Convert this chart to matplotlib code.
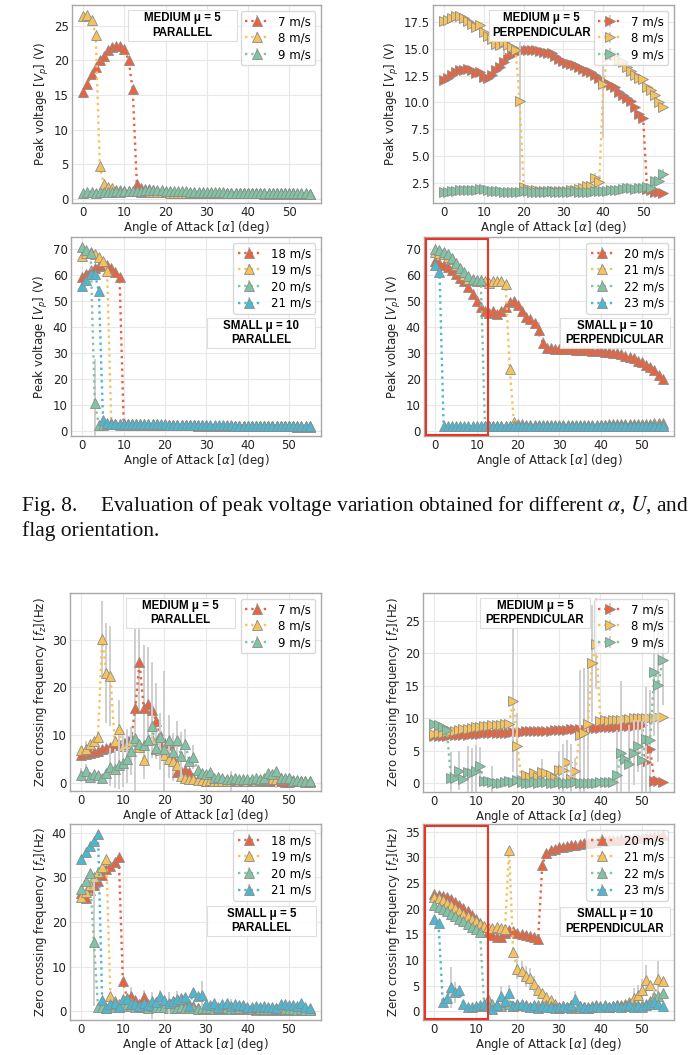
import matplotlib
matplotlib.use('Agg')
import matplotlib.pyplot as plt
import numpy as np
from matplotlib.patches import Rectangle

W, H = 690, 1055
plt.rcParams['font.family'] = ['DejaVu Sans']
plt.rcParams['font.size'] = 8.5

angles = list(range(56))

# ---------------- Panel 1: peak voltage, MEDIUM mu=5 PARALLEL ----------------
p1_labels = ['7 m/s', '8 m/s', '9 m/s']
p1_v7 = [15.4,16.6,18.0,19.0,20.0,20.7,21.5,22.0,22.1,22.1,21.7,20.0,15.8,2.2,1.6,1.4,1.4,1.3,1.2,1.1,
         1.0,1.0,0.9,0.9,0.9,0.9,0.9,0.9,0.9,0.9,0.9,0.9,0.9,0.9,0.8,0.8,0.8,0.8,0.8,0.8,
         0.8,0.8,0.8,0.8,0.8,0.8,0.8,0.8,0.8,0.8,0.8,0.8,0.7,0.7,0.7,0.7]
p1_v8 = [26.4,26.5,25.9,23.7,4.8,2.1,1.7,1.5,1.3,1.3,1.2,1.1,1.1,1.1,1.0,1.0,1.0,1.0,1.0,1.0,
         1.0,0.9,0.9,0.9,0.8,0.8,0.8,0.8,0.8,0.8,0.8,0.8,0.8,0.8,0.8,0.8,0.8,0.8,0.8,0.8,
         0.8,0.8,0.8,0.8,0.7,0.7,0.7,0.7,0.7,0.7,0.7,0.7,0.7,0.7,0.7,0.7]
p1_v9 = [0.9,1.0,1.0,0.9,1.0,1.0,1.0,1.0,1.1,1.0,1.1,1.1,1.2,1.2,1.2,1.3,1.3,1.3,1.3,1.3,
         1.2,1.2,1.1,1.1,1.1,1.1,1.0,1.0,1.0,1.0,1.0,1.0,1.0,1.0,1.0,0.9,0.9,0.9,0.9,0.9,
         0.9,0.9,0.9,0.9,0.9,0.9,0.9,0.9,0.8,0.8,0.8,0.8,0.8,0.8,0.8,0.7]
p1_err = [{}, {4: 0.4}, {}]

# ---------------- Panel 2: peak voltage, MEDIUM mu=5 PERPENDICULAR ----------------
p2_labels = ['7 m/s', '8 m/s', '9 m/s']
p2_v7 = [12.1,12.3,12.6,12.8,13.0,13.0,13.1,13.0,12.7,12.8,12.4,12.3,12.6,13.0,13.3,13.8,14.2,14.4,14.6,14.8,
         14.9,14.9,14.9,14.9,14.8,14.7,14.6,14.6,14.3,14.1,13.9,13.7,13.6,13.5,13.3,13.1,12.9,12.8,12.6,12.3,
         12.0,11.8,11.6,11.4,11.0,10.7,10.4,10.1,9.6,8.9,8.5,1.9,1.8,1.6,1.6,1.5]
p2_v8 = [17.6,17.7,17.9,18.1,18.1,17.9,17.6,17.3,17.0,17.2,16.6,16.2,15.9,15.5,15.4,15.6,15.4,15.2,14.9,10.1,
         2.1,1.9,1.8,1.8,1.7,1.7,1.7,1.7,1.7,1.7,1.7,1.7,1.8,1.8,1.9,2.0,2.2,2.2,2.9,2.6,
         11.7,14.2,14.5,14.4,14.0,13.8,13.3,12.9,12.6,12.3,12.2,11.4,11.2,10.7,10.0,9.6]
p2_v9 = [1.6,1.6,1.7,1.7,1.8,1.8,1.8,1.8,1.8,1.9,1.9,1.8,1.7,1.7,1.7,1.6,1.6,1.6,1.6,1.6,
         1.7,1.7,1.6,1.6,1.6,1.6,1.6,1.7,1.6,1.6,1.6,1.6,1.6,1.7,1.6,1.6,1.6,1.6,1.7,1.7,
         1.7,1.7,1.8,1.8,1.8,1.9,2.0,2.0,1.9,2.0,2.0,2.1,2.0,2.7,2.7,3.3]
p2_err = [{8: 0.3, 10: 0.3, 14: 0.4, 27: 0.3, 33: 0.3, 44: 0.3},
          {15: 1.2, 19: 7.4, 40: 5.0, 43: 0.5, 38: 0.5},
          {53: 0.3, 54: 0.3, 55: 0.5}]

# ---------------- Panel 3: peak voltage, SMALL mu=10 PARALLEL ----------------
p3_labels = ['18 m/s', '19 m/s', '20 m/s', '21 m/s']
p3_v18 = [59.2,60.5,61.8,62.8,63.6,64.0,64.0,62.8,61.2,59.1,2.8,2.6,2.6,2.6,2.5,2.5,2.5,2.5,2.5,2.5,
          2.4,2.4,2.4,2.3,2.3,2.2,2.2,2.2,2.1,2.1,2.1,2.0,2.0,2.0,2.0,2.0,1.9,1.9,1.9,1.9,
          1.9,1.9,1.8,1.8,1.8,1.8,1.8,1.8,1.8,1.8,1.8,1.8,1.7,1.7,1.7,1.7]
p3_v19 = [67.4,68.5,68.8,68.0,67.0,65.5,61.5,3.0,2.6,2.5,2.5,2.5,2.5,2.5,2.5,2.4,2.4,2.4,2.4,2.4,
          2.4,2.3,2.3,2.3,2.2,2.2,2.2,2.2,2.1,2.1,2.1,2.0,2.0,2.0,2.0,2.0,1.9,1.9,1.9,1.9,
          1.9,1.9,1.8,1.8,1.8,1.8,1.8,1.8,1.8,1.8,1.8,1.8,1.7,1.7,1.7,1.7]
p3_v20 = [70.9,69.5,68.3,10.6,2.5,2.5,2.6,2.6,2.6,2.6,2.6,2.6,2.6,2.6,2.6,2.6,2.6,2.6,2.6,2.5,
          2.5,2.5,2.4,2.4,2.4,2.3,2.3,2.3,2.2,2.2,2.2,2.1,2.1,2.1,2.1,2.0,2.0,2.0,2.0,2.0,
          2.0,1.9,1.9,1.9,1.9,1.9,1.9,1.9,1.9,1.8,1.8,1.8,1.8,1.8,1.8,1.8]
p3_v21 = [55.9,58.1,60.5,60.3,53.8,4.2,3.0,2.8,2.7,2.7,2.7,2.7,2.7,2.7,2.6,2.6,2.6,2.6,2.6,2.6,
          2.6,2.5,2.5,2.5,2.5,2.4,2.4,2.4,2.4,2.3,2.3,2.3,2.3,2.2,2.2,2.2,2.2,2.1,2.1,2.1,
          2.1,2.1,2.0,2.0,2.0,2.0,2.0,2.0,1.9,1.9,1.9,1.9,1.9,1.9,1.9,1.8]
p3_err = [{}, {}, {3: 17.0}, {}]

# ---------------- Panel 4: peak voltage, SMALL mu=10 PERPENDICULAR ----------------
p4_labels = ['20 m/s', '21 m/s', '22 m/s', '23 m/s']
p4_v20 = [65.3,64.5,64.0,63.0,62.0,60.5,59.0,57.5,55.5,52.5,50.0,47.5,46.0,45.5,46.0,45.0,46.0,47.5,49.5,50.0,
          48.5,46.0,44.0,43.0,41.5,39.0,34.0,32.0,32.0,31.5,31.5,31.5,31.5,31.5,31.3,31.2,31.0,31.0,30.8,30.8,
          30.6,30.5,30.2,30.0,30.0,29.5,29.0,28.5,28.0,27.0,26.5,25.5,24.5,23.5,21.5,20.0]
p4_v21 = [69.0,68.5,68.0,67.0,66.0,64.0,62.0,60.0,58.5,58.0,57.5,57.5,57.5,57.0,57.5,57.5,57.5,56.5,24.0,3.5,
          2.8,2.6,2.5,2.5,2.4,2.4,2.4,2.4,2.4,2.4,2.4,2.4,2.4,2.4,2.4,2.4,2.4,2.5,2.5,2.5,
          2.5,2.5,2.6,2.6,2.6,2.7,2.7,2.7,2.8,2.8,2.8,2.9,2.9,3.0,3.2,3.0]
p4_v22 = [70.0,69.5,69.0,68.0,66.5,64.5,62.5,61.0,59.5,58.5,58.0,58.0,1.8,1.9,2.0,2.0,2.0,2.0,2.0,2.0,
          2.0,2.0,2.0,2.0,2.0,2.0,2.0,2.0,2.0,2.0,2.0,2.0,2.1,2.1,2.1,2.1,2.1,2.1,2.1,2.1,
          2.2,2.2,2.2,2.2,2.2,2.2,2.3,2.3,2.3,2.3,2.3,2.4,2.4,2.4,2.5,2.5]
p4_v23 = [63.8,61.3,1.8,1.9,1.9,1.9,1.9,1.9,1.9,1.9,1.9,1.9,1.9,1.9,1.9,1.9,1.9,1.9,1.9,1.9,
          1.9,1.9,1.9,1.9,1.9,1.9,1.9,1.9,1.9,1.9,1.9,1.9,1.9,1.9,2.0,2.0,2.0,2.0,2.0,2.0,
          2.0,2.0,2.0,2.0,2.0,2.0,2.0,2.1,2.1,2.1,2.1,2.1,2.1,2.1,2.1,2.1]
p4_err = [{20: 1.5, 25: 3.0, 26: 2.0, 54: 1.0, 55: 1.0}, {}, {}, {}]

# ---------------- Panel 5: zero crossing freq, MEDIUM mu=5 PARALLEL ----------------
p5_labels = ['7 m/s', '8 m/s', '9 m/s']
p5_f7 = [5.9,6.1,6.3,6.5,6.7,7.0,7.3,7.6,7.9,8.2,8.6,9.0,9.4,15.8,25.3,15.8,16.5,15.3,13.0,10.0,
         8.5,8.3,5.5,2.3,2.5,2.8,2.3,1.0,0.8,0.6,0.5,0.5,0.4,0.5,0.6,0.6,0.5,0.5,0.5,0.4,
         0.4,0.5,0.4,0.3,0.3,0.4,0.5,0.5,0.4,0.2,0.1,0.3,0.3,0.3,0.2,0.2]
p5_f8 = [6.8,7.2,8.2,8.8,9.6,30.2,23.0,22.4,8.8,11.3,7.7,8.2,8.8,9.0,7.5,4.8,9.0,9.2,7.2,6.8,
         5.8,5.0,4.5,3.7,1.5,1.0,0.9,0.8,0.7,0.6,0.5,0.6,0.3,0.4,0.5,0.5,0.4,0.6,0.5,0.6,
         0.5,0.6,0.5,0.7,0.6,0.8,0.9,0.9,1.0,0.9,1.1,0.6,0.5,0.5,0.4,0.3]
p5_f9 = [1.7,2.5,1.3,1.8,1.6,1.0,2.0,3.4,3.0,3.7,4.1,5.0,6.7,9.5,8.1,7.9,9.0,12.0,7.3,9.6,
         7.0,9.0,6.5,9.0,5.7,8.2,4.5,5.5,2.8,2.0,1.8,2.3,1.0,1.2,1.0,0.8,0.8,1.0,0.9,0.8,
         0.8,0.9,1.0,0.9,1.0,2.0,1.8,2.4,1.0,1.0,1.0,0.5,0.6,0.4,0.4,0.3]
p5_err = [{13: 18.0, 14: 10.0, 15: 13.0, 16: 12.0, 17: 10.0, 18: 8.0, 20: 15.0, 21: 6.0, 22: 5.0},
          {1: 1.5, 5: 8.0, 6: 10.5, 7: 10.5, 9: 6.0, 10: 3.0, 11: 3.0, 12: 3.0, 15: 4.0, 16: 5.0,
           19: 4.0, 20: 4.0, 21: 4.0, 36: 2.0, 45: 1.5, 47: 2.0},
          {0: 1.5, 1: 1.5, 7: 4.0, 8: 4.0, 9: 5.0, 10: 5.0, 11: 5.0, 12: 5.0, 17: 5.0, 19: 5.0,
           23: 4.0, 24: 5.0, 25: 3.0, 27: 2.5}]

# ---------------- Panel 6: zero crossing freq, MEDIUM mu=5 PERPENDICULAR ----------------
p6_labels = ['7 m/s', '8 m/s', '9 m/s']
p6_f7 = [7.2,7.2,7.3,7.3,7.4,7.4,7.5,7.5,7.5,7.6,7.6,7.6,7.7,7.7,7.7,7.7,7.8,7.8,7.8,7.9,
         7.9,7.9,8.0,8.0,8.0,8.0,8.1,8.1,8.1,8.2,8.2,8.2,8.2,8.3,8.3,8.3,8.4,8.4,8.5,8.5,
         8.5,8.6,8.6,8.7,8.7,8.7,8.8,8.8,8.8,8.9,9.0,3.2,5.3,0.4,0.3,0.2]
p6_f8 = [7.6,7.7,7.8,7.9,8.0,8.1,8.2,8.3,8.4,8.5,8.6,8.7,8.8,8.8,8.9,8.9,9.0,9.1,9.2,12.7,
         5.8,0.5,1.2,0.9,1.5,1.0,1.8,1.5,1.2,0.8,2.0,2.0,3.2,0.6,1.9,7.5,7.8,9.2,18.5,21.5,
         9.6,9.7,9.6,9.7,9.8,9.8,9.9,9.9,10.0,10.0,10.0,10.1,10.1,10.1,10.2,10.2]
p6_f9 = [9.2,8.9,8.6,8.2,0.8,0.8,1.9,0.7,1.8,1.5,1.9,2.6,0.3,0.4,0.2,0.1,0.1,0.2,0.3,0.2,
         0.5,0.2,0.1,0.1,0.2,0.1,0.2,0.2,0.1,0.1,0.2,0.1,0.1,0.1,0.2,0.1,0.1,0.0,0.1,0.1,
         0.2,0.2,0.2,0.2,1.2,4.7,3.7,2.9,4.7,5.8,3.6,6.8,6.6,17.2,15.2,19.0]
p6_err = [{51: 7.0, 52: 9.0},
          {19: 11.0, 20: 5.0, 26: 2.0, 30: 3.0, 32: 3.4, 34: 2.0, 35: 10.0, 36: 10.0, 37: 9.0, 38: 9.0, 39: 7.0},
          {4: 4.0, 6: 3.0, 8: 4.0, 9: 4.0, 10: 4.0, 11: 3.0, 14: 2.5, 31: 6.0, 33: 6.0, 36: 4.0,
           44: 7.0, 45: 11.0, 47: 6.0, 48: 5.0, 49: 4.0, 50: 6.0, 51: 8.0, 53: 10.0, 54: 12.0, 55: 7.0}]

# ---------------- Panel 7: zero crossing freq, SMALL mu=5 PARALLEL ----------------
p7_labels = ['18 m/s', '19 m/s', '20 m/s', '21 m/s']
p7_f18 = [26.6,25.5,27.2,28.4,29.3,30.5,31.8,32.6,33.5,34.6,6.7,3.0,3.5,2.5,1.5,3.2,1.5,1.8,2.0,1.6,
          2.0,1.8,2.2,2.5,3.0,2.2,1.5,1.2,0.8,0.8,0.8,0.6,1.0,0.8,0.8,1.0,0.9,0.8,0.7,0.8,
          0.6,0.7,0.8,0.7,0.6,0.7,0.8,0.5,0.6,0.7,0.5,0.6,0.6,0.5,0.5,0.5]
p7_f19 = [25.6,26.8,28.2,30.0,31.2,32.3,34.2,3.3,2.2,1.5,1.2,2.5,2.0,1.5,1.2,1.0,0.9,1.0,1.2,1.5,
          1.2,1.0,1.5,1.0,0.9,0.8,0.8,0.7,0.6,0.5,0.5,0.5,0.4,0.5,0.4,0.5,0.4,0.4,0.4,0.5,
          0.4,0.5,0.3,0.4,0.3,0.4,0.3,0.3,0.4,0.3,0.3,0.3,0.4,0.3,0.3,0.3]
p7_f20 = [27.5,29.3,31.0,15.6,1.0,1.0,0.8,1.2,1.0,1.0,1.2,1.5,1.2,1.0,1.2,1.0,0.8,1.2,1.0,0.9,
          1.0,0.8,0.7,0.8,1.0,0.7,0.8,0.6,0.5,0.8,0.6,0.7,0.5,0.6,0.7,0.6,0.5,0.6,0.8,1.2,
          0.7,0.5,0.6,0.5,0.4,0.5,0.4,0.6,0.4,0.5,0.4,0.5,0.3,0.4,0.3,0.3]
p7_f21 = [34.2,35.7,37.0,38.2,39.7,2.6,0.7,1.5,1.8,1.0,2.7,2.8,1.6,1.5,1.2,1.8,1.4,2.2,2.0,3.3,
          2.5,1.8,2.2,2.7,2.8,3.2,1.2,4.2,3.5,3.7,1.5,1.3,1.8,1.0,1.6,1.8,1.2,1.5,1.4,1.3,
          1.0,0.9,1.2,1.0,1.1,0.9,1.0,0.8,1.6,1.5,1.3,1.3,1.2,1.9,1.0,0.6]
p7_err = [{12: 2.0, 15: 1.5, 23: 2.0}, {}, {3: 14.5, 17: 3.0}, {19: 1.5, 21: 2.5, 29: 3.0, 36: 1.5}]

# ---------------- Panel 8: zero crossing freq, SMALL mu=10 PERPENDICULAR ----------------
p8_labels = ['20 m/s', '21 m/s', '22 m/s', '23 m/s']
p8_f20 = [22.9,22.6,22.5,22.2,21.8,21.3,20.8,20.2,19.5,18.8,18.0,17.3,16.5,15.5,14.9,14.4,14.5,15.3,15.8,15.6,
          15.2,15.0,14.8,14.6,14.4,14.1,28.5,30.9,31.4,31.7,32.0,32.1,32.3,32.4,32.5,32.6,32.7,32.8,32.9,33.0,
          33.1,33.2,33.3,33.3,33.4,33.5,33.5,33.6,33.7,33.7,33.8,33.9,34.0,34.1,34.2,34.3]
p8_f21 = [22.3,22.0,21.7,21.2,20.7,20.2,19.6,19.0,18.5,18.0,17.6,17.0,16.7,16.5,16.3,16.4,16.2,16.0,31.5,11.5,
          8.2,7.8,6.8,6.5,5.3,4.2,3.5,2.7,2.2,1.5,0.8,0.9,0.8,0.7,0.9,1.0,0.8,0.7,0.9,1.0,
          0.9,1.0,0.8,1.0,1.2,1.3,1.5,1.8,2.5,3.2,4.2,6.0,5.2,2.5,6.3,5.9]
p8_f22 = [20.8,20.3,20.0,19.5,19.0,18.5,18.0,17.5,17.0,16.5,16.0,15.5,1.0,2.3,1.5,1.2,1.0,1.8,1.5,1.0,
          1.5,1.2,1.3,0.8,1.0,1.2,1.0,1.3,1.0,0.8,0.7,1.0,0.8,1.2,1.0,0.7,0.8,0.9,1.0,1.2,
          1.0,0.8,0.9,1.0,1.2,1.0,1.3,1.5,1.2,1.0,1.2,1.5,2.0,2.8,3.0,3.5]
p8_f23 = [17.9,17.3,1.8,2.6,4.7,3.7,4.2,1.5,0.8,0.9,1.0,1.3,1.5,1.0,0.5,1.3,3.0,2.0,3.6,1.0,
          1.2,1.5,1.0,0.8,1.2,0.6,1.0,0.8,0.9,0.7,0.8,1.0,0.9,1.2,2.4,1.0,0.8,0.7,0.9,1.0,
          0.8,1.2,0.9,1.0,1.0,0.9,1.0,1.2,0.9,1.0,0.8,1.2,1.5,1.8,1.5,1.1]
p8_err = [{}, {20: 2.0, 21: 2.0, 22: 2.0, 23: 2.0, 24: 1.5, 48: 2.0, 49: 2.0, 50: 2.0, 51: 3.0, 54: 3.5},
          {13: 1.5, 53: 1.5}, {4: 4.0, 5: 2.0, 16: 2.0, 18: 1.5, 34: 1.5}]

# ---------------------------------------------------------------------------
COLORS = ['#E8643F', '#F6C25C', '#80C4A3', '#4BB8D2']
VLABEL = 'Peak voltage [$V_p$] (V)'
FLABEL = 'Zero crossing frequency [$f_z$](Hz)'
XLABEL = 'Angle of Attack [$\\alpha$] (deg)'
FS = 8.5

fig = plt.figure(figsize=(W / 100, H / 100), dpi=100)


def rect_px(x0, y0, x1, y1):
    return [x0 / W, 1 - y1 / H, (x1 - x0) / W, (y1 - y0) / H]


def err_array(d):
    return [d.get(i, 0.0) for i in angles]


def panel(px, series, labels, errs, marker, ylim, ylabel, boxtxt, boxpx, redbox=None):
    ax = fig.add_axes(rect_px(*px))
    for k, (vals, lab, ed) in enumerate(zip(series, labels, errs)):
        ax.errorbar(angles, vals, yerr=err_array(ed), fmt=':', marker=marker, color=COLORS[k],
                    ecolor='#cfcfcf', elinewidth=1.4, capsize=0, ms=7.3, mec='#8c8c8c', mew=0.6,
                    lw=1.7, label=lab, zorder=2 + k)
    ax.set_xlim(-2.75, 57.75)
    ax.set_ylim(*ylim)
    ax.set_xticks([0, 10, 20, 30, 40, 50])
    ax.grid(True, color='#e8e8e8', lw=0.8)
    ax.set_axisbelow(True)
    for s in ax.spines.values():
        s.set_color('#a8a8a8')
        s.set_linewidth(1.0)
    ax.tick_params(length=0, labelsize=FS, pad=2.5, colors='#222222')
    ax.set_xlabel(XLABEL, fontsize=FS, labelpad=0, color='#222222')
    ax.set_ylabel(ylabel, fontsize=FS, labelpad=2, color='#222222')
    leg = ax.legend(loc='upper right', fontsize=FS, frameon=True, framealpha=0.8,
                    edgecolor='#d0d0d0', borderaxespad=0.5, handlelength=2.0,
                    labelspacing=0.3, borderpad=0.35)
    leg.set_zorder(20)
    # annotation box (fixed pixel extent)
    bx0, by0, bx1, by1 = boxpx
    fig.patches.append(Rectangle((bx0 / W, 1 - by1 / H), (bx1 - bx0) / W, (by1 - by0) / H,
                                 transform=fig.transFigure, fc='white', ec='#dcdcdc', lw=0.8,
                                 alpha=0.92, zorder=21))
    fig.text((bx0 + bx1) / 2 / W, 1 - (by0 + by1) / 2 / H, boxtxt, ha='center', va='center',
             fontsize=8.3, fontweight='bold', family=['Liberation Sans', 'DejaVu Sans'],
             linespacing=1.25, zorder=22)
    if redbox is not None:
        ax.add_patch(Rectangle((redbox[0], redbox[1]), redbox[2] - redbox[0], redbox[3] - redbox[1],
                               fill=False, ec='#EE3322', lw=1.5, zorder=30, clip_on=False))
    return ax


panel((72, 5, 321, 203), [p1_v7, p1_v8, p1_v9], p1_labels, p1_err, '^', (-0.6, 28.0), VLABEL,
      'MEDIUM \u03bc = 5\nPARALLEL', (128, 10, 237, 41))
panel((433, 5, 674, 203), [p2_v7, p2_v8, p2_v9], p2_labels, p2_err, '>', (0.6, 19.1), VLABEL,
      'MEDIUM \u03bc = 5\nPERPENDICULAR', (489, 10, 594, 41))
panel((71, 237, 321, 436), [p3_v18, p3_v19, p3_v20, p3_v21], p3_labels, p3_err, '^', (-1.9, 74.6), VLABEL,
      'SMALL \u03bc = 10\nPARALLEL', (207, 318, 315, 348))
panel((424, 237, 674, 436), [p4_v20, p4_v21, p4_v22, p4_v23], p4_labels, p4_err, '^', (-1.9, 74.6), VLABEL,
      'SMALL \u03bc = 10\nPERPENDICULAR', (560, 318, 670, 348), redbox=(-2.2, -1.4, 12.85, 73.8))
panel((70, 593, 321, 791), [p5_f7, p5_f8, p5_f9], p5_labels, p5_err, '^', (-1.7, 39.8), FLABEL,
      'MEDIUM \u03bc = 5\nPARALLEL', (126, 598, 235, 628))
panel((423, 593, 674, 792), [p6_f7, p6_f8, p6_f9], p6_labels, p6_err, '>', (-1.35, 29.3), FLABEL,
      'MEDIUM \u03bc = 5\nPERPENDICULAR', (480, 598, 590, 628))
panel((70, 824, 321, 1020), [p7_f18, p7_f19, p7_f20, p7_f21], p7_labels, p7_err, '^', (-2.0, 42.0), FLABEL,
      'SMALL \u03bc = 5\nPARALLEL', (207, 906, 316, 936))
panel((423, 824, 674, 1020), [p8_f20, p8_f21, p8_f22, p8_f23], p8_labels, p8_err, '^', (-1.7, 36.5), FLABEL,
      'SMALL \u03bc = 10\nPERPENDICULAR', (560, 907, 670, 936), redbox=(-2.2, -1.5, 12.85, 36.1))

# Caption
cap_kw = dict(family=['Liberation Serif', 'DejaVu Serif'], fontsize=15.5, va='center', ha='left',
              color='#111111', math_fontfamily='stix')
fig.text(22 / W, 1 - 506 / H, 'Fig. 8.', **cap_kw)
fig.text(100 / W, 1 - 506 / H,
         'Evaluation of peak voltage variation obtained for different $\\alpha$, $U$, and', **cap_kw)
fig.text(22 / W, 1 - 531 / H, 'flag orientation.', **cap_kw)

fig.savefig('out.png', dpi=100)
